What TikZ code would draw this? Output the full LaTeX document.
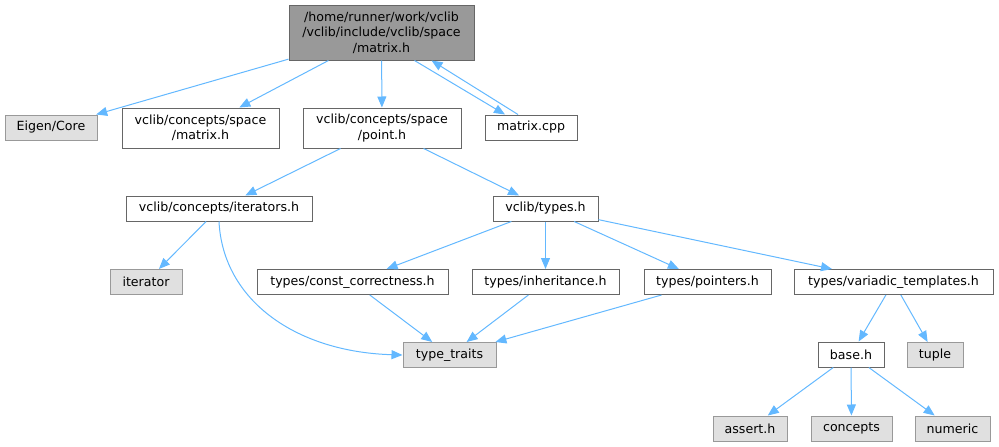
\documentclass[tikz,border=0pt]{standalone}
\usepackage{fontspec}
\setmainfont{DejaVu Sans}
\usepackage{xcolor}
\usepackage{tikz}
\usetikzlibrary{arrows.meta}
\definecolor{edgeblue}{HTML}{63B8FF}
\definecolor{rootfill}{HTML}{999999}
\definecolor{rootline}{HTML}{666666}
\definecolor{extfill}{HTML}{E0E0E0}
\definecolor{extline}{HTML}{999999}
\definecolor{inkblack}{HTML}{000000}

\begin{document}
\begin{tikzpicture}[
  x=1pt, y=-1pt,
  every node/.style={font=\fontsize{12.6}{15.5}\selectfont, align=center, text=inkblack},
  hdr/.style={draw=rootline, fill=white, inner sep=0pt, minimum height=25pt, line width=1pt},
  ext/.style={hdr, draw=extline, fill=extfill},
  top/.style={hdr, fill=rootfill},
  edge/.style={-{Triangle[length=11pt, width=9pt]}, line width=1pt, color=edgeblue},
]
  \useasboundingbox (0,0) rectangle (999,447);

  \node[top, minimum width=185pt, minimum height=55pt] (root) at (381.5,32.5)
    {/home/runner/work/vclib\\/vclib/include/vclib/space\\/matrix.h};
  \node[ext, minimum width=92pt] (eigen) at (51,127.5) {Eigen/Core};
  \node[hdr, minimum width=157pt, minimum height=40pt] (cmat) at (200.5,128) {vclib/concepts/space\\/matrix.h};
  \node[hdr, minimum width=158pt, minimum height=40pt] (cpoint) at (382,128) {vclib/concepts/space\\/point.h};
  \node[hdr, minimum width=92pt] (mcpp) at (531,127.5) {matrix.cpp};
  \node[hdr, minimum width=186pt] (iters) at (219,208.5) {vclib/concepts/iterators.h};
  \node[hdr, minimum width=105pt] (types) at (545.5,208.5) {vclib/types.h};
  \node[ext, minimum width=72pt] (iterator) at (146,282) {iterator};
  \node[hdr, minimum width=191pt] (constc) at (352.5,282) {types/const\_correctness.h};
  \node[hdr, minimum width=147pt] (inher) at (545.5,282) {types/inheritance.h};
  \node[hdr, minimum width=127pt] (ptrs) at (707.5,282) {types/pointers.h};
  \node[hdr, minimum width=199pt] (varia) at (893.5,282) {types/variadic\_templates.h};
  \node[ext, minimum width=93pt] (ttraits) at (449.5,355) {type\_traits};
  \node[hdr, minimum width=66pt] (base) at (851,354.5) {base.h};
  \node[ext, minimum width=56pt] (tuple) at (935,355) {tuple};
  \node[ext, minimum width=74pt] (assert) at (750,428.5) {assert.h};
  \node[ext, minimum width=81pt] (concepts) at (851.5,428.5) {concepts};
  \node[ext, minimum width=75pt] (numeric) at (952.5,428.5) {numeric};

  \draw[edge] (root) -- (eigen);
  \draw[edge] (root) -- (cmat);
  \draw[edge] (root) -- (cpoint);
  \draw[edge] ([xshift=33pt]root.south) -- ([xshift=-26pt]mcpp.north);
  \draw[edge] ([xshift=-13pt]mcpp.north) -- ([xshift=50pt]root.south);
  \draw[edge] (cpoint) -- (iters);
  \draw[edge] (cpoint) -- (types);
  \draw[edge] (iters) -- (iterator);
  \draw[edge] (iters.south) .. controls +(4,80) and +(-105,-3) .. (ttraits.west);
  \draw[edge] (types) -- (constc);
  \draw[edge] (types) -- (inher);
  \draw[edge] (types) -- (ptrs);
  \draw[edge] (types) -- (varia);
  \draw[edge] (constc) -- (ttraits);
  \draw[edge] (inher) -- (ttraits);
  \draw[edge] (ptrs) -- (ttraits);
  \draw[edge] (varia) -- (base);
  \draw[edge] (varia) -- (tuple);
  \draw[edge] (base) -- (assert);
  \draw[edge] (base) -- (concepts);
  \draw[edge] (base) -- (numeric);
\end{tikzpicture}
\end{document}
